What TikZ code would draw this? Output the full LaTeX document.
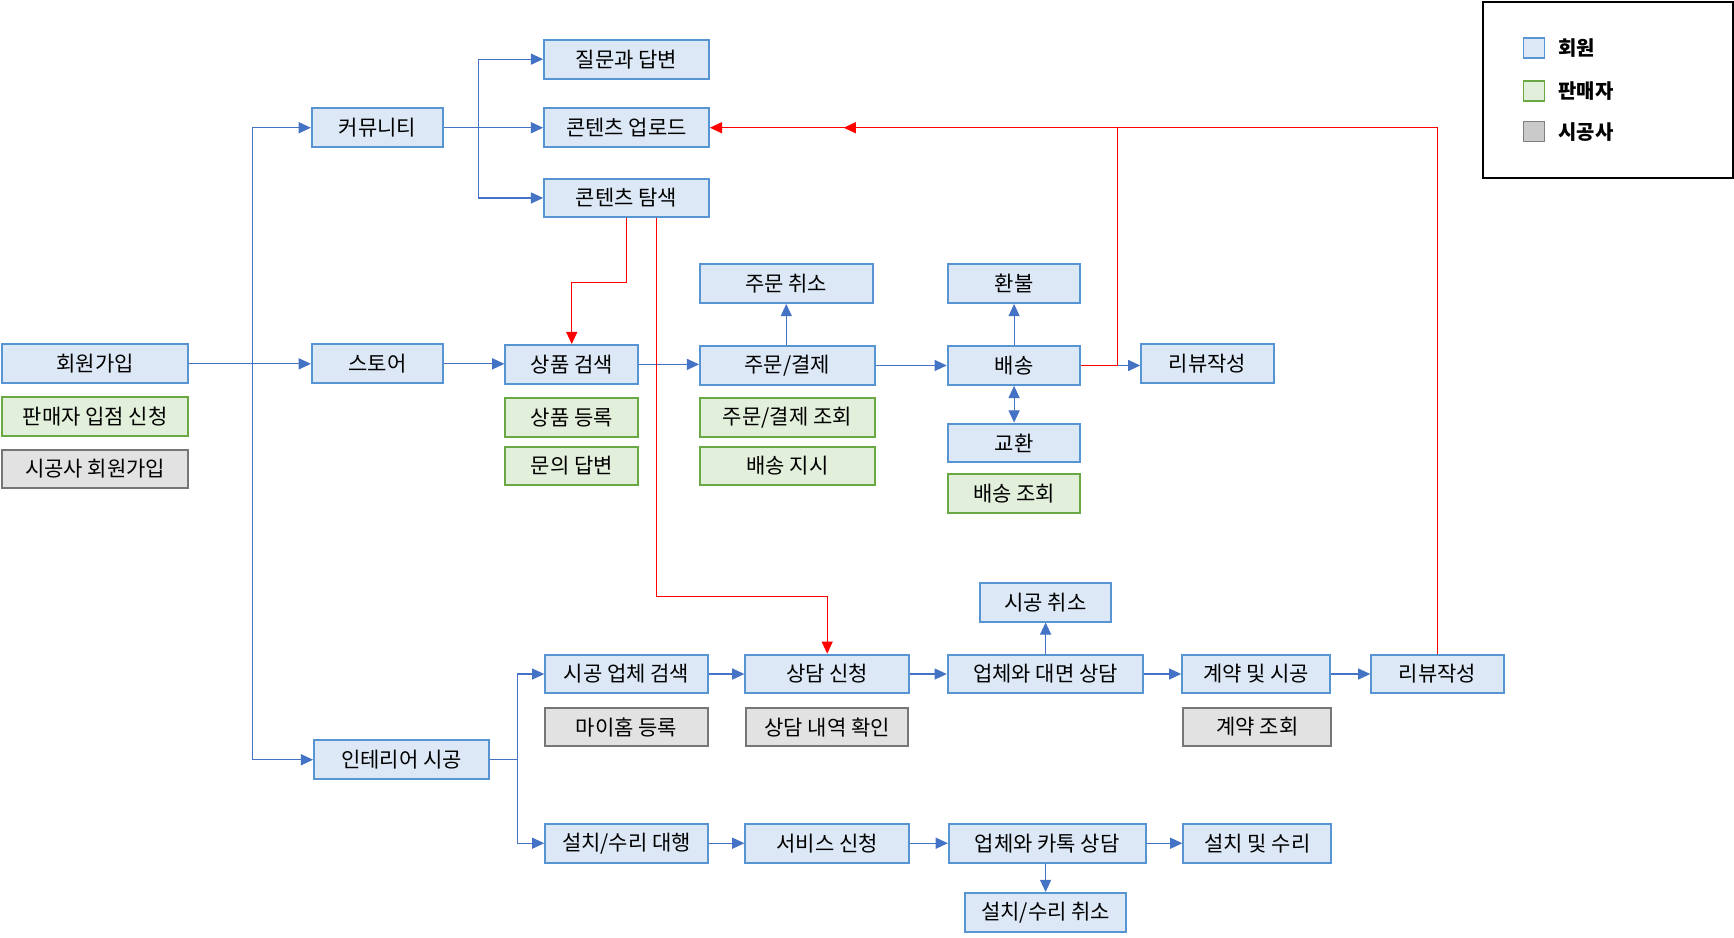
\documentclass[tikz,border=0pt]{standalone}
\usepackage{fontspec}
\newfontfamily\kr{Noto Sans CJK KR}
\usetikzlibrary{arrows.meta,calc}
\definecolor{memf}{RGB}{220,232,246}
\definecolor{memb}{RGB}{86,148,210}
\definecolor{self}{RGB}{226,239,218}
\definecolor{selb}{RGB}{106,168,68}
\definecolor{conf}{RGB}{226,226,226}
\definecolor{conb}{RGB}{118,118,118}
\definecolor{legf}{RGB}{202,202,202}
\definecolor{legb}{RGB}{128,128,128}
\definecolor{arrc}{RGB}{68,114,196}
\definecolor{redc}{RGB}{255,0,0}
\tikzset{
  box/.style={draw, line width=1.8pt, inner sep=0pt, font=\kr\fontsize{19}{22}\selectfont, minimum height=35, anchor=center},
  mem/.style={box, draw=memb, fill=memf},
  sel/.style={box, draw=selb, fill=self},
  con/.style={box, draw=conb, fill=conf},
  conn/.style={draw=arrc, line width=1pt},
  arr/.style={conn, -{Triangle[length=11pt,width=10pt]}},
  dbl/.style={conn, {Triangle[length=11pt,width=10pt]}-{Triangle[length=11pt,width=10pt]}},
  rarr/.style={draw=redc, line width=1pt, -{Triangle[length=11pt,width=10pt]}},
  legsq/.style={draw, line width=1.5pt, minimum width=19, minimum height=18, inner sep=0pt},
  legtx/.style={anchor=west, font=\kr\bfseries\fontsize{18}{21}\selectfont, inner sep=0pt}
}
\begin{document}
\begin{tikzpicture}[x=1pt,y=-1pt]
\useasboundingbox[fill=white] (0,0) rectangle (1568,848.2);
% left column
\node[mem, minimum width=168] (reg) at (86,329) {회원가입};
\node[sel, minimum width=168] (selreg) at (86,376.5) {판매자 입점 신청};
\node[con, minimum width=168] (conreg) at (86,424) {시공사 회원가입};
% second column
\node[mem, minimum width=119] (comm) at (341.5,115.5) {커뮤니티};
\node[mem, minimum width=119] (store) at (341.5,329) {스토어};
\node[mem, minimum width=158] (inter) at (363,687) {인테리어 시공};
% community
\node[mem, minimum width=149] (qa) at (566.5,53.5) {질문과 답변};
\node[mem, minimum width=149] (upl) at (566.5,115.5) {콘텐츠 업로드};
\node[mem, minimum width=149] (exp) at (566.5,179) {콘텐츠 탐색};
% store
\node[mem, minimum width=120] (psearch) at (517,329.5) {상품 검색};
\node[sel, minimum width=120] (preg) at (517,377.5) {상품 등록};
\node[sel, minimum width=120] (qans) at (517,421.5) {문의 답변};
\node[mem, minimum width=158] (ord) at (712,330.5) {주문/결제};
\node[mem, minimum width=156] (ocan) at (711,256.5) {주문 취소};
\node[sel, minimum width=158] (oinq) at (712,377.5) {주문/결제 조회};
\node[sel, minimum width=158] (ship) at (712,421.5) {배송 지시};
\node[mem, minimum width=120] (deliv) at (917,330.5) {배송};
\node[mem, minimum width=120] (refund) at (917,256.5) {환불};
\node[mem, minimum width=120] (exch) at (917,400.5) {교환};
\node[sel, minimum width=120] (dinq) at (917,446.5) {배송 조회};
\node[mem, minimum width=120] (rev1) at (1092,328.5) {리뷰작성};
% interior
\node[mem, minimum width=147] (csearch) at (566.5,609.5) {시공 업체 검색};
\node[con, minimum width=147] (myhome) at (566.5,657.5) {마이홈 등록};
\node[mem, minimum width=148] (consult) at (748,609.5) {상담 신청};
\node[con, minimum width=146] (cinq) at (748,657.5) {상담 내역 확인};
\node[mem, minimum width=177] (face) at (945.5,609.5) {업체와 대면 상담};
\node[mem, minimum width=119] (ccan) at (945.5,544.5) {시공 취소};
\node[mem, minimum width=134] (contract) at (1136,609.5) {계약 및 시공};
\node[con, minimum width=134] (coninq) at (1137,657.5) {계약 조회};
\node[mem, minimum width=120] (rev2) at (1300,609.5) {리뷰작성};
\node[mem, minimum width=147] (inst) at (566.5,762.5) {설치/수리 대행};
\node[mem, minimum width=148] (svc) at (748,762.5) {서비스 신청};
\node[mem, minimum width=178] (kakao) at (947,762.5) {업체와 카톡 상담};
\node[mem, minimum width=134] (fix) at (1137,762.5) {설치 및 수리};
\node[mem, minimum width=145] (icancel) at (945.5,825) {설치/수리 취소};
% legend
\node[draw=black, line width=2pt, minimum width=226, minimum height=159, inner sep=0pt] (leg) at (1454,81.5) {};
\node[legsq, draw=memb, fill=memf] (lg1) at (1387,43.5) {};
\node[legsq, draw=selb, fill=self] (lg2) at (1387,82.5) {};
\node[legsq, draw=legb, fill=legf] (lg3) at (1387,119) {};
\node[legtx] (lt1) at (1409,43.5) {회원};
\node[legtx] (lt2) at (1409,82.5) {판매자};
\node[legtx] (lt3) at (1409,119) {시공사};
% trunk
\coordinate (tk) at (228,329);
\draw[arr] (reg.east) -- (store.west);
\draw[arr] (tk) |- (comm.west);
\draw[arr] (tk) |- (inter.west);
% community branch
\coordinate (cb) at (433,115.5);
\draw[arr] (comm.east) -- (upl.west);
\draw[arr] (cb) |- (qa.west);
\draw[arr] (cb) |- (exp.west);
% store flow
\draw[arr] (store.east) -- (store.east -| psearch.west);
\draw[arr] (psearch.east) -- (psearch.east -| ord.west);
\draw[arr] (ocan.south |- ord.north) -- (ocan.south);
\draw[arr] (ord.east) -- (deliv.west);
\draw[arr] (deliv.north) -- (refund.south);
\draw[dbl] (deliv.south) -- (exch.north);
\draw[arr] (deliv.east) -- (deliv.east -| rev1.west);
% interior flow
\coordinate (ib) at (468,687);
\draw[conn] (inter.east) -- (ib);
\draw[arr] (ib) |- (csearch.west);
\draw[arr] (ib) |- (inst.west);
\draw[arr] (csearch.east) -- (consult.west);
\draw[arr] (consult.east) -- (face.west);
\draw[arr] (face.north) -- (ccan.south);
\draw[arr] (face.east) -- (contract.west);
\draw[arr] (contract.east) -- (rev2.west);
\draw[arr] (inst.east) -- (svc.west);
\draw[arr] (svc.east) -- (kakao.west);
\draw[arr] (kakao.east) -- (fix.west);
\draw[arr] (icancel.north |- kakao.south) -- (icancel.north);
% red links
\draw[rarr] (exp.south) -- ++(0,58) -| (psearch.north);
\draw[rarr] ([xshift=27.5pt]exp.south) -- ++(0,342) -| (consult.north);
\draw[rarr] (deliv.east) -- ++(33,0) |- (upl.east);
\coordinate (redmid) at ($(upl.east)+(121,0)$);
\draw[rarr] (rev2.north) |- (redmid);
\end{tikzpicture}
\end{document}
